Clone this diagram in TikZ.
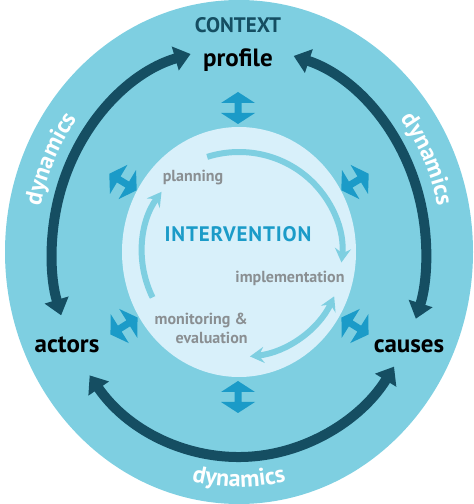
\documentclass[tikz,border=0pt]{standalone}
\usepackage{fontspec}
\setmainfont{PT Sans}
\usetikzlibrary{arrows.meta,decorations.text}
\definecolor{ctxblue}{HTML}{7ECFE1}
\definecolor{intblue}{HTML}{D8F0FA}
\definecolor{darkteal}{HTML}{154E62}
\definecolor{midblue}{HTML}{1B9BC8}
\definecolor{labelgrey}{HTML}{8A8F92}
\tikzset{
  dbl_arrow/.pic={
    \fill[midblue] (0,16) -- (17,5) -- (3.5,5) -- (3.5,-5) -- (17,-5) -- (0,-16)
      -- (-17,-5) -- (-3.5,-5) -- (-3.5,5) -- (-17,5) -- cycle;
  }
}
\begin{document}
\begin{tikzpicture}[x=0.5pt, y=0.5pt]
    \tikzstyle{big_label} = [font=\fontsize{12.5}{14}\selectfont\bfseries, text=black, inner sep=0]
    \tikzstyle{step_label} = [font=\fontsize{8}{9.5}\selectfont\bfseries, text=labelgrey, inner sep=0]
    \tikzstyle{dyn_label} = [decorate, decoration={text along path, text align=center, text color=white,
        text={|\fontsize{12}{14}\selectfont\bfseries|dynamics}}]
    \tikzstyle{dark_arc} = [draw=darkteal, line width=5pt, {Triangle[length=8pt,width=12pt]}-{Triangle[length=8pt,width=12pt]}]
    \tikzstyle{light_arc} = [draw=ctxblue, line width=3pt]
    \useasboundingbox (0,0) rectangle (473,504);

    % context and intervention discs
    \fill[ctxblue] (239,252) ellipse [x radius=234, y radius=252];
    \fill[intblue] (239,252) ellipse [x radius=117, y radius=125];
    \coordinate (c) at (239,252);

    \node[font=\fontsize{10.5}{12}\selectfont\bfseries, text=darkteal, inner sep=0] (context) at (238,479) {CONTEXT};
    \node[big_label, anchor=base] (profile) at (238,437) {profile};
    \node[big_label, anchor=base] (actors) at (67,151) {actors};
    \node[big_label, anchor=base] (causes) at (409,151) {causes};

    % dynamics arcs
    \draw[dark_arc] (c) ++(105:187 and 205) arc[start angle=105, end angle=198, x radius=187, y radius=205];
    \draw[dark_arc] (c) ++(73:187 and 205) arc[start angle=73, end angle=-19, x radius=187, y radius=205];
    \draw[dark_arc] (c) ++(217:187 and 205) arc[start angle=217, end angle=326, x radius=187, y radius=205];
    \path[shift={(c)}, dyn_label] (185:203 and 220) arc[start angle=185, end angle=125, x radius=203, y radius=220];
    \path[shift={(c)}, dyn_label] (55:203 and 220) arc[start angle=55, end angle=-5, x radius=203, y radius=220];
    \path[shift={(c)}, dyn_label] (240:214 and 235) arc[start angle=240, end angle=300, x radius=214, y radius=235];

    % intervention cycle
    \node[font=\fontsize{10.5}{12}\selectfont\bfseries\addfontfeature{LetterSpace=4}, text=midblue, inner sep=0, anchor=base] (interv) at (238,262) {INTERVENTION};
    \node[step_label, anchor=base] (plan) at (193,322) {planning};
    \node[step_label, anchor=base] (impl) at (290,221) {implementation};
    \node[step_label, align=right, anchor=east] (monit) at (248,176) {monitoring \&\\evaluation};
    \draw[light_arc, -{Stealth[length=7pt,width=8pt,inset=2.5pt]}] (c) ++(108:103 and 100) arc[start angle=108, end angle=-6, x radius=103, y radius=100];
    \draw[light_arc, -{Stealth[length=7pt,width=8pt,inset=2.5pt]}] (c) ++(207:97 and 100) arc[start angle=207, end angle=143, x radius=97, y radius=100];
    \draw[light_arc, {Stealth[length=7pt,width=8pt,inset=2.5pt]}-{Stealth[length=7pt,width=8pt,inset=2.5pt]}] (c) ++(-25:105) arc[start angle=-25, end angle=-84, radius=105];

    % exchange between context and intervention
    \pic at (238,396) {dbl_arrow};
    \pic at (238,107) {dbl_arrow};
    \pic[rotate=59] at (123,322) {dbl_arrow};
    \pic[rotate=-59] at (355,322) {dbl_arrow};
    \pic[rotate=-58] at (124,178) {dbl_arrow};
    \pic[rotate=58] at (355,178) {dbl_arrow};
\end{tikzpicture}
\end{document}
